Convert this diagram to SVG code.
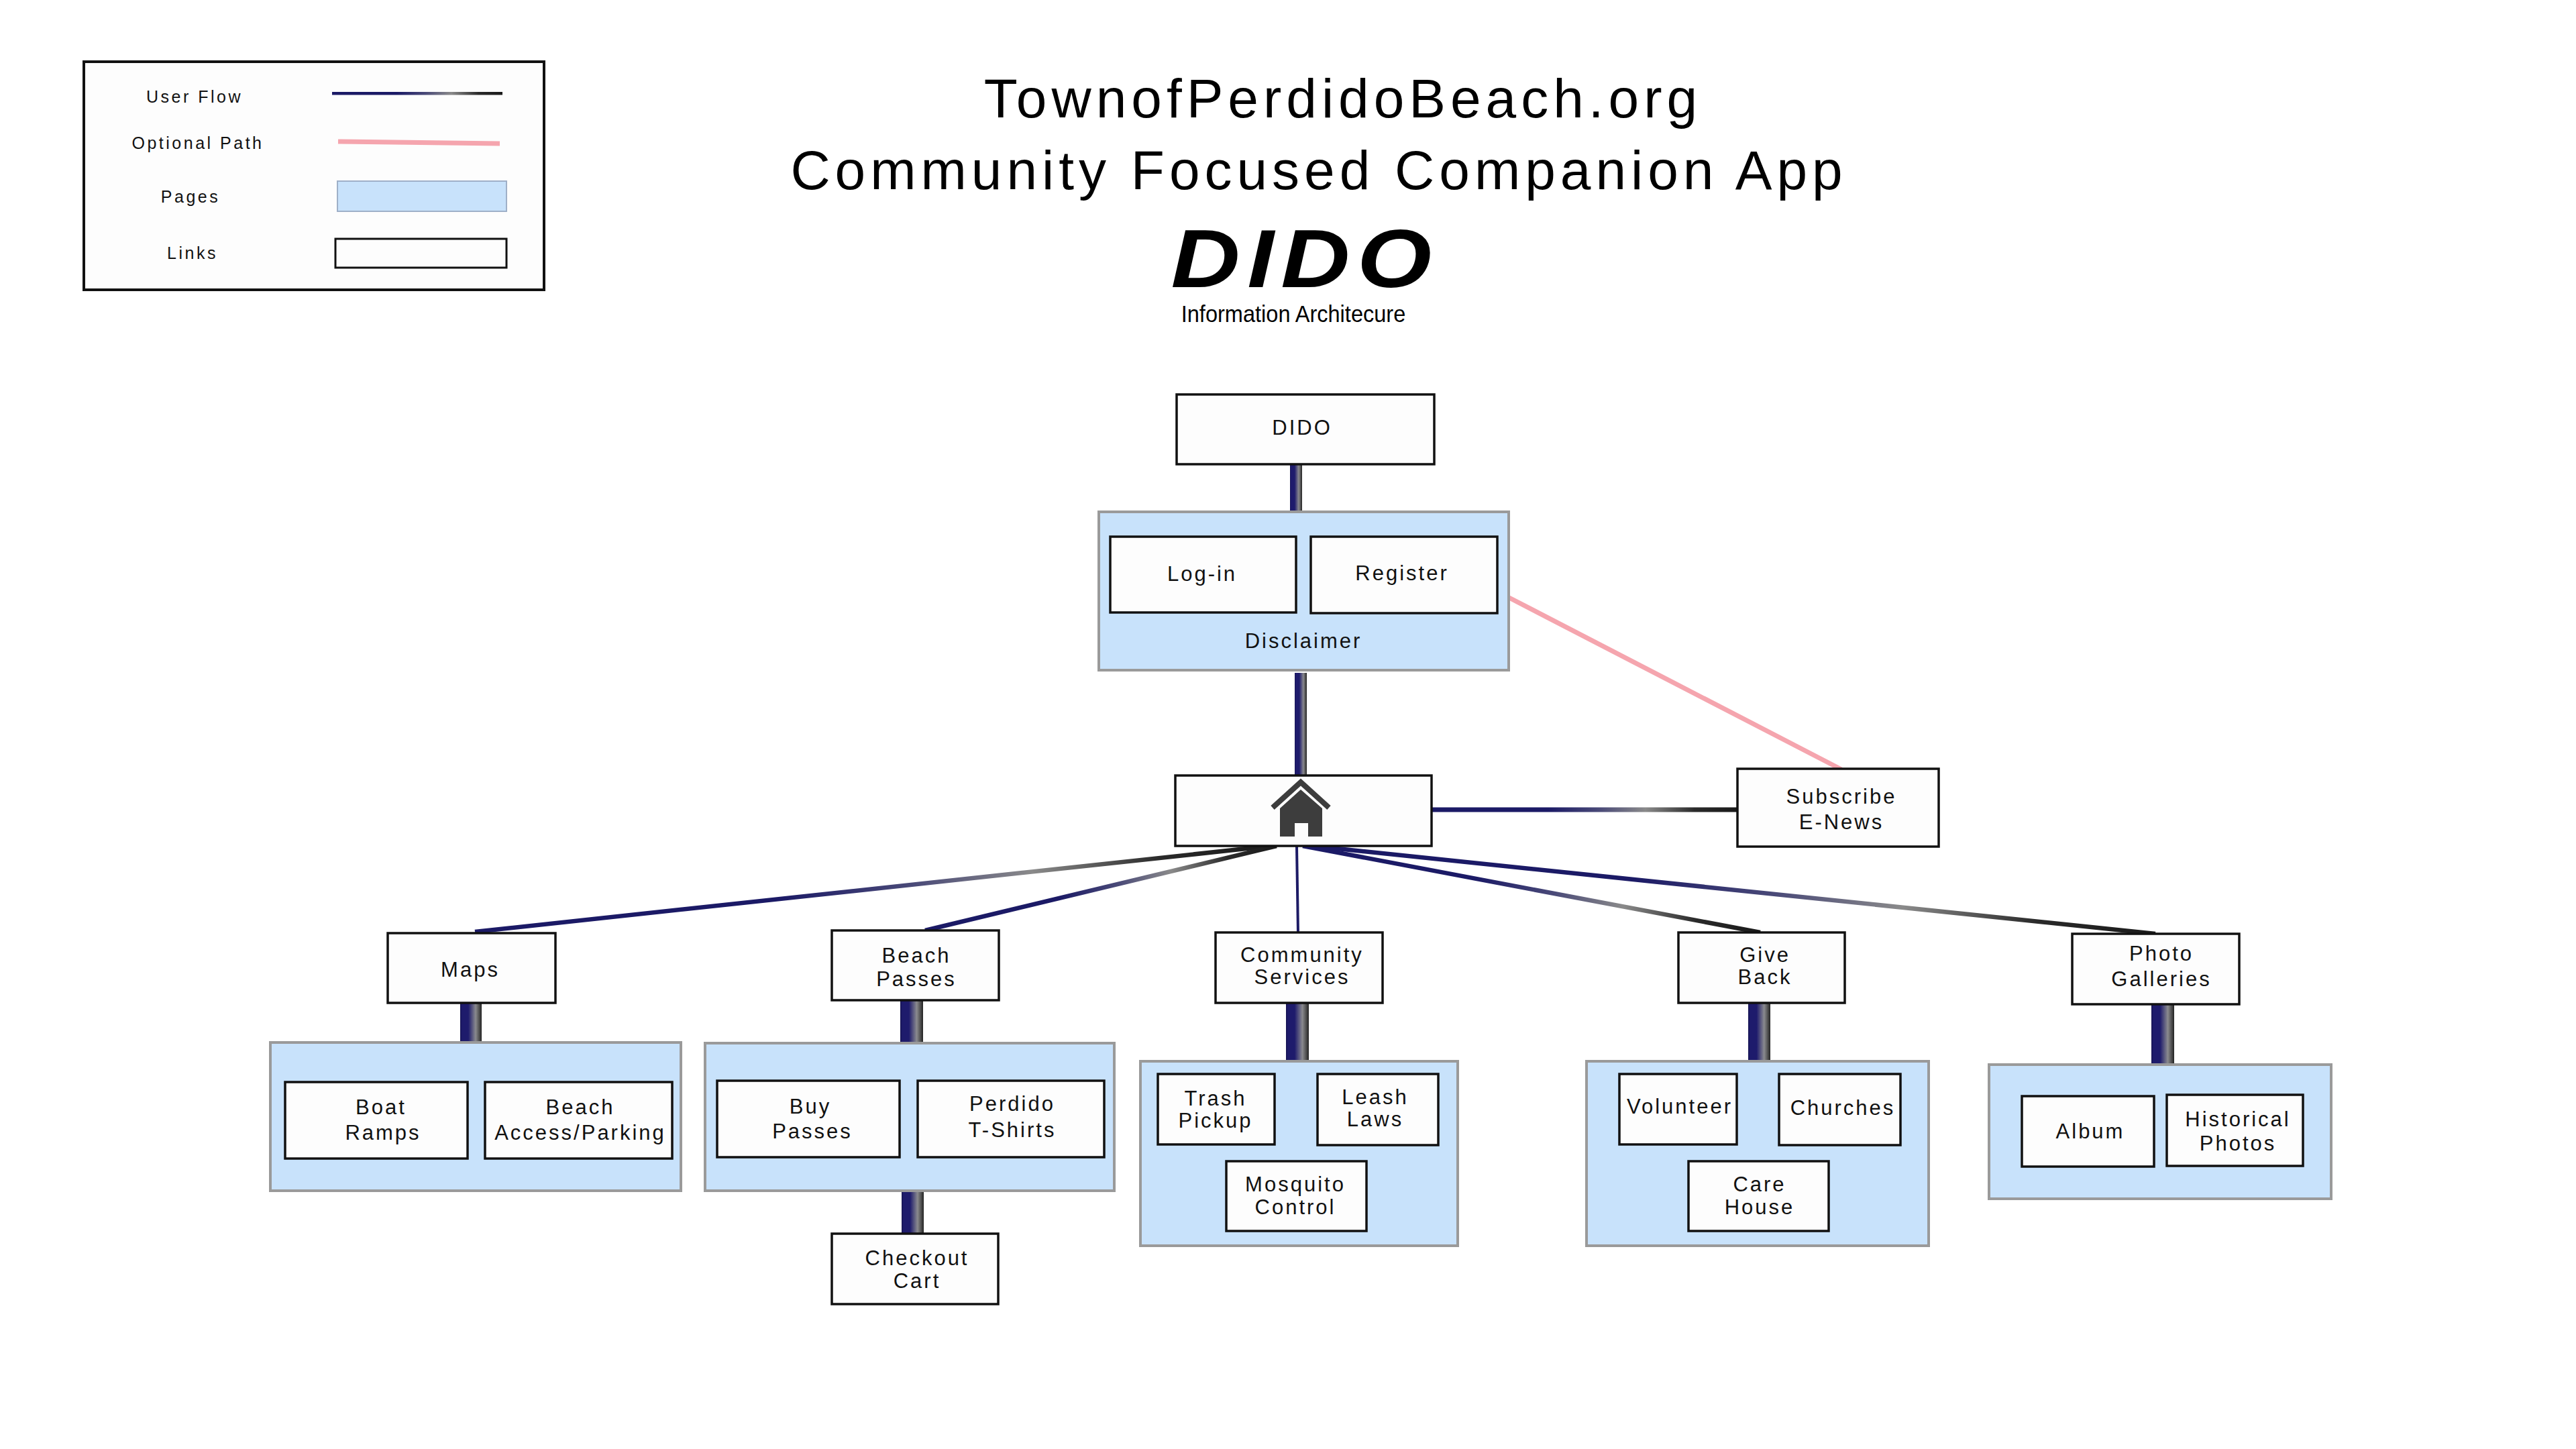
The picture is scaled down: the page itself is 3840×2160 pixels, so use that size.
<svg xmlns="http://www.w3.org/2000/svg" width="3840" height="2160" viewBox="0 0 3840 2160">
<defs>
<style>
.node{fill:#fdfdfd;stroke:#111;stroke-width:3.5}
.page{fill:#c8e2fb;stroke:#9a9a9a;stroke-width:4}
.t{font-family:"Liberation Sans",Arial,sans-serif;font-size:31px;letter-spacing:3px;fill:#111;text-anchor:middle}
.lg{font-family:"Liberation Sans",Arial,sans-serif;font-size:25px;letter-spacing:3.5px;fill:#111;text-anchor:middle}
.flow{fill:none;stroke:url(#flowG);stroke-width:6.5}
.cyl{fill:url(#cylG)}
.opt{stroke:#f5a5ae;stroke-width:7;fill:none}
</style>
<linearGradient id="flowG" x1="0" y1="0" x2="1" y2="0">
<stop offset="0" stop-color="#1b1a66"/>
<stop offset="0.38" stop-color="#1b1a66"/>
<stop offset="0.55" stop-color="#4a4a78"/>
<stop offset="0.7" stop-color="#8a8a8a"/>
<stop offset="0.86" stop-color="#2a2a2a"/>
<stop offset="1" stop-color="#1a1a1a"/>
</linearGradient>
<linearGradient id="cylG" x1="0" y1="0" x2="1" y2="0">
<stop offset="0" stop-color="#15134f"/>
<stop offset="0.08" stop-color="#1e1b6c"/>
<stop offset="0.38" stop-color="#1e1b6c"/>
<stop offset="0.72" stop-color="#8a8a8e"/>
<stop offset="0.9" stop-color="#4a4a4a"/>
<stop offset="1" stop-color="#222"/>
</linearGradient>
</defs>
<rect x="0" y="0" width="3840" height="2160" fill="#ffffff"/>

<g id="legend">
<rect x="125" y="92" width="686" height="340" fill="#fdfdfd" stroke="#111" stroke-width="4"/>
<text class="lg" x="290" y="153">User Flow</text>
<rect x="495" y="137" width="254" height="4.5" fill="url(#flowG)"/>
<text class="lg" x="295" y="222">Optional Path</text>
<line class="opt" x1="504" y1="211" x2="745" y2="214"/>
<text class="lg" x="284" y="302">Pages</text>
<rect x="503" y="270" width="252" height="45" fill="#c8e2fb" stroke="#9fb0c8" stroke-width="2"/>
<text class="lg" x="287" y="386">Links</text>
<rect x="500" y="356" width="255" height="43" fill="#fdfdfd" stroke="#111" stroke-width="3"/>
</g>

<g id="title" font-family="'Liberation Sans',Arial,sans-serif" fill="#000" text-anchor="middle">
<text x="2002" y="175" font-size="82" letter-spacing="7">TownofPerdidoBeach.org</text>
<text x="1966" y="282" font-size="82" letter-spacing="7">Community Focused Companion App</text>
<text transform="translate(1945,428) scale(1.17,1)" x="0" y="0" font-size="122" font-weight="bold" font-style="italic" letter-spacing="9">DIDO</text>
<text transform="translate(1928,480) scale(0.93,1)" x="0" y="0" font-size="35">Information Architecure</text>
</g>

<g id="connectors">
<rect class="cyl" x="1923" y="692" width="18" height="71"/>
<rect class="cyl" x="1930" y="1003" width="18" height="153"/>
<rect x="2134" y="1203.5" width="456" height="7" fill="url(#flowG)"/>
<line class="opt" x1="2240" y1="886" x2="2745" y2="1147"/>
<line class="flow" x1="708" y1="1389" x2="1895" y2="1261"/>
<line class="flow" x1="1379" y1="1387" x2="1903" y2="1261"/>
<line x1="1933" y1="1261" x2="1935" y2="1390" stroke="#1d1b66" stroke-width="4"/>
<line class="flow" x1="1942" y1="1261" x2="2624" y2="1390"/>
<line class="flow" x1="1955" y1="1261" x2="3213" y2="1392"/>
<rect class="cyl" x="686" y="1495" width="32" height="61"/>
<rect class="cyl" x="1342" y="1491" width="34" height="66"/>
<rect class="cyl" x="1344" y="1773" width="33" height="66"/>
<rect class="cyl" x="1917" y="1495" width="34" height="87"/>
<rect class="cyl" x="2606" y="1495" width="33" height="87"/>
<rect class="cyl" x="3207" y="1497" width="34" height="90"/>
</g>

<g id="n-dido">
<rect class="node" x="1754" y="588" width="384" height="104"/>
<text class="t" x="1941" y="648">DIDO</text>
</g>

<g id="p-disclaimer">
<rect class="page" x="1638" y="763" width="611" height="236"/>
<text class="t" x="1943" y="966">Disclaimer</text>
</g>
<g id="n-login">
<rect class="node" x="1655" y="800" width="277" height="113"/>
<text class="t" x="1792" y="866">Log-in</text>
</g>
<g id="n-register">
<rect class="node" x="1954" y="800" width="278" height="114"/>
<text class="t" x="2090" y="865">Register</text>
</g>

<g id="n-home">
<rect class="node" x="1752" y="1156" width="382" height="105"/>
<polyline points="1897,1204 1939,1166 1981,1204" fill="none" stroke="#3d3d3d" stroke-width="8"/>
<path d="M1908,1247 V1205 L1939,1177 L1971,1205 V1247 Z" fill="#3d3d3d"/>
<rect x="1930" y="1227" width="20" height="20" fill="#fdfdfd"/>
</g>

<g id="n-subscribe">
<rect class="node" x="2590" y="1146" width="300" height="116"/>
<text class="t" x="2745" y="1198">Subscribe</text>
<text class="t" x="2745" y="1236">E-News</text>
</g>

<g id="n-maps">
<rect class="node" x="578" y="1391" width="250" height="104"/>
<text class="t" x="701" y="1456">Maps</text>
</g>
<g id="p-maps">
<rect class="page" x="403" y="1554" width="612" height="221"/>
</g>
<g id="n-boat">
<rect class="node" x="425" y="1613" width="272" height="114"/>
<text class="t" x="568" y="1661">Boat</text>
<text class="t" x="571" y="1699">Ramps</text>
</g>
<g id="n-access">
<rect class="node" x="723" y="1613" width="279" height="114"/>
<text class="t" x="865" y="1661">Beach</text>
<text class="t" x="865" y="1699">Access/Parking</text>
</g>

<g id="n-beachpasses">
<rect class="node" x="1240" y="1387" width="249" height="104"/>
<text class="t" x="1366" y="1435">Beach</text>
<text class="t" x="1366" y="1470">Passes</text>
</g>
<g id="p-beach">
<rect class="page" x="1051" y="1555" width="610" height="220"/>
</g>
<g id="n-buy">
<rect class="node" x="1069" y="1611" width="272" height="114"/>
<text class="t" x="1208" y="1660">Buy</text>
<text class="t" x="1211" y="1697">Passes</text>
</g>
<g id="n-shirts">
<rect class="node" x="1368" y="1611" width="278" height="114"/>
<text class="t" x="1509" y="1656">Perdido</text>
<text class="t" x="1509" y="1695">T-Shirts</text>
</g>
<g id="n-checkout">
<rect class="node" x="1240" y="1839" width="248" height="105"/>
<text class="t" x="1367" y="1886">Checkout</text>
<text class="t" x="1367" y="1920">Cart</text>
</g>

<g id="n-community">
<rect class="node" x="1812" y="1390" width="249" height="105"/>
<text class="t" x="1941" y="1434">Community</text>
<text class="t" x="1941" y="1467">Services</text>
</g>
<g id="p-community">
<rect class="page" x="1700" y="1582" width="473" height="275"/>
</g>
<g id="n-trash">
<rect class="node" x="1726" y="1601" width="174" height="105"/>
<text class="t" x="1812" y="1648">Trash</text>
<text class="t" x="1812" y="1681">Pickup</text>
</g>
<g id="n-leash">
<rect class="node" x="1964" y="1601" width="180" height="106"/>
<text class="t" x="2050" y="1646">Leash</text>
<text class="t" x="2050" y="1679">Laws</text>
</g>
<g id="n-mosquito">
<rect class="node" x="1828" y="1731" width="209" height="104"/>
<text class="t" x="1931" y="1776">Mosquito</text>
<text class="t" x="1931" y="1810">Control</text>
</g>

<g id="n-giveback">
<rect class="node" x="2502" y="1390" width="248" height="105"/>
<text class="t" x="2631" y="1434">Give</text>
<text class="t" x="2631" y="1467">Back</text>
</g>
<g id="p-giveback">
<rect class="page" x="2365" y="1582" width="510" height="275"/>
</g>
<g id="n-volunteer">
<rect class="node" x="2414" y="1601" width="175" height="105"/>
<text class="t" x="2504" y="1660">Volunteer</text>
</g>
<g id="n-churches">
<rect class="node" x="2652" y="1601" width="181" height="106"/>
<text class="t" x="2747" y="1662">Churches</text>
</g>
<g id="n-care">
<rect class="node" x="2517" y="1731" width="209" height="104"/>
<text class="t" x="2623" y="1776">Care</text>
<text class="t" x="2623" y="1810">House</text>
</g>

<g id="n-photo">
<rect class="node" x="3089" y="1392" width="249" height="105"/>
<text class="t" x="3222" y="1432">Photo</text>
<text class="t" x="3222" y="1470">Galleries</text>
</g>
<g id="p-photo">
<rect class="page" x="2965" y="1587" width="510" height="200"/>
</g>
<g id="n-album">
<rect class="node" x="3014" y="1634" width="197" height="105"/>
<text class="t" x="3116" y="1697">Album</text>
</g>
<g id="n-historical">
<rect class="node" x="3230" y="1632" width="203" height="106"/>
<text class="t" x="3336" y="1679">Historical</text>
<text class="t" x="3336" y="1715">Photos</text>
</g>
</svg>
